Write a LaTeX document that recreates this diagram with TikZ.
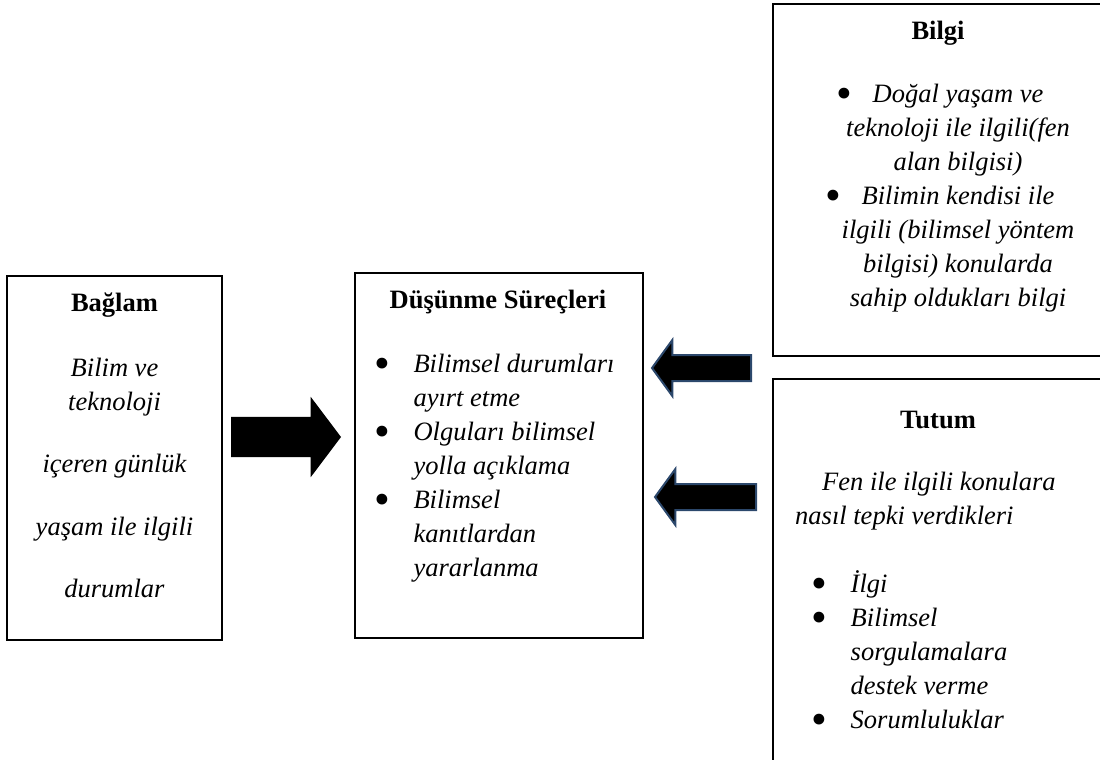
\documentclass[tikz,border=0pt]{standalone}
\usepackage{fontspec}
\setmainfont{Liberation Serif}
\usetikzlibrary{shapes.arrows}

\definecolor{arrowblue}{RGB}{44,72,108}
\newcommand{\fsz}{\fontsize{26.5pt}{34pt}\selectfont}
\newcommand{\blt}{\smash{\raisebox{-6pt}{\scalebox{1.7}{\upshape\textbullet}}}}
\newcommand{\itemb}{\makebox[36pt][l]{\hspace{-3pt}\blt}}
\newcommand{\itemc}{\hspace*{36pt}}

\begin{document}
\begin{tikzpicture}[
    x=1pt, y=-1pt,
    box/.style = {draw, line width=2pt, inner sep=0pt, outer sep=0pt},
    ttl/.style = {font=\fsz\bfseries, inner sep=0pt},
    txt/.style = {font=\fsz\itshape, inner sep=0pt},
    bigarrow/.style = {single arrow, fill=black, inner sep=0pt, outer sep=0pt,
                       single arrow head extend=20pt, single arrow tip angle=106},
    backarrow/.style = {single arrow, fill=black, draw=arrowblue, line width=2pt,
                        inner sep=0pt, outer sep=0pt, shape border rotate=180,
                        single arrow head extend=15pt, single arrow tip angle=108},
  ]
  \clip (0,0) rectangle (1100,760);

  % ---------- Kutular ----------
  \node[box, minimum width=215pt, minimum height=364pt] (baglam)  at (114.5,458) {};
  \node[box, minimum width=288pt, minimum height=365pt] (dusunme) at (499,455.5) {};
  \node[box, minimum width=347pt, minimum height=352pt] (bilgi)   at (946.5,180) {};
  \node[box, minimum width=347pt, minimum height=401pt] (tutum)   at (946.5,579.5) {};

  % ---------- Bağlam ----------
  \node[ttl] (baglamT) at (114.5,305) {Bağlam};
  \node[txt, align=center, anchor=north] (baglamX) at (114.5,358)
       {Bilim ve\\teknoloji\\[28pt]içeren günlük\\[29pt]yaşam ile ilgili\\[28pt]durumlar};

  % ---------- Düşünme Süreçleri ----------
  \node[ttl] (dusunmeT) at (498,302) {Düşünme Süreçleri};
  \node[txt, align=left, anchor=north west] (dusunmeX) at (377.3,354)
       {\itemb Bilimsel durumları\\ \itemc ayırt etme\\
        \itemb Olguları bilimsel\\ \itemc yolla açıklama\\
        \itemb Bilimsel\\ \itemc kanıtlardan\\ \itemc yararlanma};

  % ---------- Bilgi ----------
  \node[ttl] (bilgiT) at (938,33) {Bilgi};
  \node[txt, align=center, anchor=north] (bilgiX) at (958,84)
       {\llap{\blt\hspace{20pt}}Doğal yaşam ve\\ teknoloji ile ilgili(fen\\ alan bilgisi)\\
        \llap{\blt\hspace{20pt}}Bilimin kendisi ile\\ ilgili (bilimsel yöntem\\
        bilgisi) konularda\\ sahip oldukları bilgi};

  % ---------- Tutum ----------
  \node[ttl] (tutumT) at (938,420) {Tutum};
  \node[txt, align=left, anchor=north west] (tutumX) at (795,472)
       {\hspace*{27pt}Fen ile ilgili konulara\\nasıl tepki verdikleri};
  \node[txt, align=left, anchor=north west] (tutumL) at (814.5,570)
       {\itemb İlgi\\ \itemb Bilimsel\\ \itemc sorgulamalara\\ \itemc destek verme\\
        \itemb Sorumluluklar};

  % ---------- Oklar ----------
  \node[bigarrow, minimum height=110pt, anchor=tip] (ok1) at (341,437) {\rule{0pt}{40pt}};
  \node[backarrow, minimum height=99pt, anchor=tip] (ok2) at (652,368) {\rule{0pt}{24pt}};
  \node[backarrow, minimum height=101pt, anchor=tip] (ok3) at (655,497) {\rule{0pt}{24pt}};

\end{tikzpicture}
\end{document}
